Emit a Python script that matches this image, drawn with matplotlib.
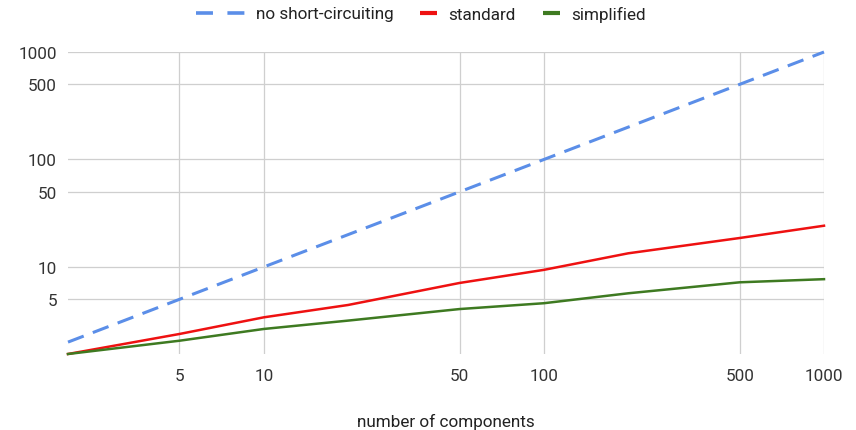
import matplotlib
matplotlib.use("Agg")
import matplotlib.pyplot as plt
from matplotlib.lines import Line2D
from matplotlib.ticker import FixedLocator, NullLocator, FixedFormatter

plt.rcParams['font.family'] = ['Roboto', 'DejaVu Sans']

# number of components
components = [2, 5, 10, 20, 50, 100, 200, 500, 1000]

# values
no_short = [2, 5, 10, 20, 50, 100, 200, 500, 1000]
standard = [1.55, 2.38, 3.4, 4.43, 7.1, 9.4, 13.4, 18.6, 24.2]
simplified = [1.55, 2.06, 2.65, 3.17, 4.06, 4.6, 5.69, 7.2, 7.7]

series_names = ['no short-circuiting', 'standard', 'simplified']
colors = ['#5b8ee8', '#ee1111', '#3e7a21']
tick_values = [5, 10, 50, 100, 500, 1000]
tick_labels = ['5', '10', '50', '100', '500', '1000']

W, H = 856, 431
FS = 12.3
fig = plt.figure(figsize=(W / 100, H / 100), dpi=100)
ax = fig.add_axes([68 / W, 1 - 355 / H, (824 - 68) / W, (355 - 53) / H])

ax.plot(components, no_short, color=colors[0], lw=2.2, linestyle=(0, (5.5, 3.2)),
        clip_on=False, zorder=3)
ax.plot(components, standard, color=colors[1], lw=1.8, clip_on=False, zorder=3)
ax.plot(components, simplified, color=colors[2], lw=1.8, clip_on=False, zorder=3)

ax.set_xscale('log')
ax.set_yscale('log')
ax.set_xlim(2, 1000)
ax.set_ylim(1.55, 1000)

for axis in (ax.xaxis, ax.yaxis):
    axis.set_major_locator(FixedLocator(tick_values))
    axis.set_major_formatter(FixedFormatter(tick_labels))
    axis.set_minor_locator(NullLocator())

ax.grid(True, color='#cfcfcf', lw=0.9)
ax.set_axisbelow(True)
for s in ax.spines.values():
    s.set_visible(False)
ax.tick_params(length=0, labelsize=FS, colors='#333333')
ax.tick_params(axis='x', pad=10)
ax.tick_params(axis='y', pad=8)

ax.set_xlabel('number of components', fontsize=FS, color='#222222', labelpad=22)

# legend: one small legend per series so each key keeps its own length
handles = [
    Line2D([], [], color=colors[0], lw=2.6, linestyle=(0, (4.7, 4.0))),
    Line2D([], [], color=colors[1], lw=3.0, solid_capstyle='butt'),
    Line2D([], [], color=colors[2], lw=3.0, solid_capstyle='butt'),
]
key_lengths = [2.85, 1.0, 1.0]
key_left = [196, 420, 543]
for h, name, hl, x0 in zip(handles, series_names, key_lengths, key_left):
    fig.legend([h], [name], loc='center left', bbox_to_anchor=(x0 / W, 1 - 15 / H),
               frameon=False, fontsize=FS, handlelength=hl, handletextpad=0.65,
               borderpad=0, borderaxespad=0, labelcolor='#222222')

fig.savefig('out.png', dpi=100, facecolor='white')
